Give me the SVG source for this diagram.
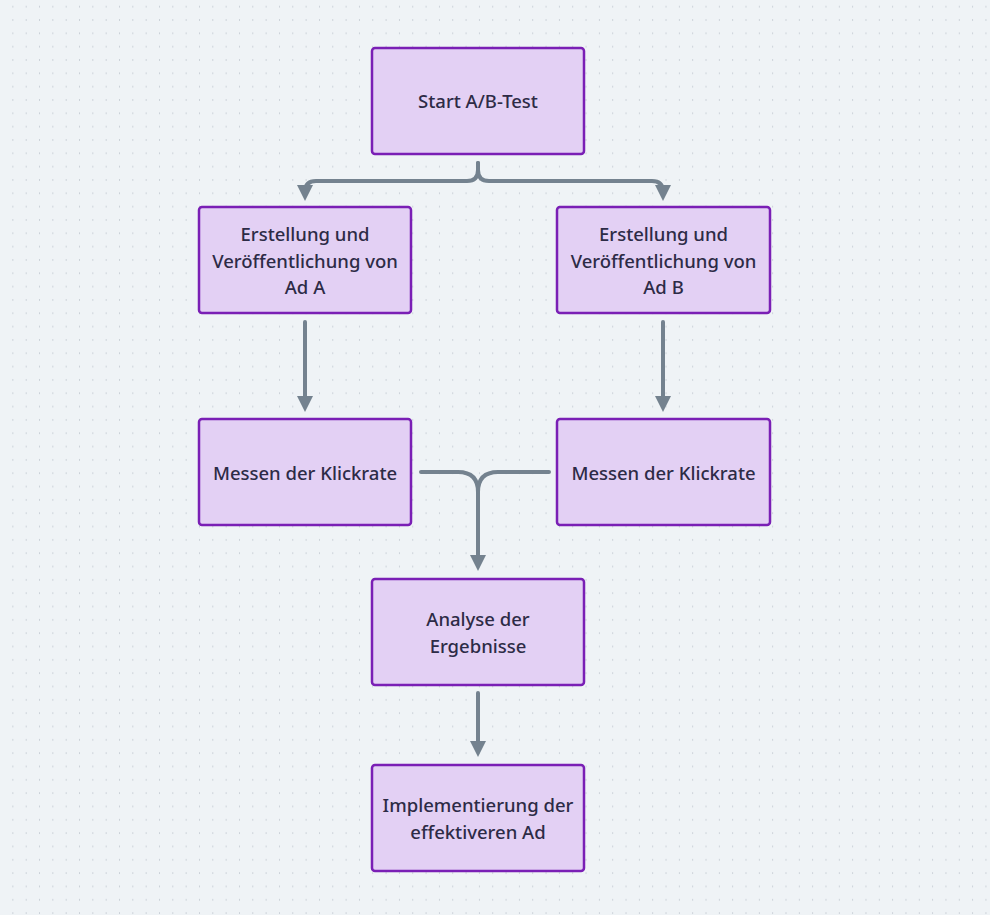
<svg xmlns="http://www.w3.org/2000/svg" width="990" height="915" viewBox="0 0 990 915">
<defs>
<pattern id="dots" width="13.33" height="13.33" patternUnits="userSpaceOnUse" x="0" y="0">
<circle cx="13.33" cy="6.67" r="1" fill="#c2c9d1"/>
</pattern>
<marker id="arr" viewBox="0 0 10 10" refX="5" refY="5" markerWidth="4" markerHeight="4" orient="auto" markerUnits="strokeWidth">
<path d="M0,0 L10,5 L0,10 Z" fill="#74828f"/>
</marker>
</defs>
<style>
.node rect{fill:#e3d0f4;stroke:#7a1fb5;stroke-width:2.5}
.node text{font-family:"Noto Sans","Open Sans",sans-serif;font-size:18.5px;font-weight:500;fill:#2d2b46;text-anchor:middle}
.edge{fill:none;stroke:#74828f;stroke-width:4;stroke-linecap:round;stroke-linejoin:round}
</style>
<rect width="990" height="915" fill="#eff3f6"/>
<rect width="990" height="915" fill="url(#dots)"/>
<g id="connectors">
<path class="edge" marker-end="url(#arr)" d="M478,163 L478,170 Q478,181 467,181 L316,181 Q305,181 305,192 L305,193"/>
<path class="edge" marker-end="url(#arr)" d="M478,163 L478,170 Q478,181 489,181 L652,181 Q663,181 663,192 L663,193"/>
<path class="edge" marker-end="url(#arr)" d="M305,322 L305,404"/>
<path class="edge" marker-end="url(#arr)" d="M663,322 L663,404"/>
<path class="edge" marker-end="url(#arr)" d="M421,472 L458,472 Q478,472 478,492 L478,563"/>
<path class="edge" d="M549,472 L498,472 Q478,472 478,492"/>
<path class="edge" marker-end="url(#arr)" d="M478,693 L478,749"/>
</g>
<g id="start" class="node"><rect x="372" y="48" width="212" height="106" rx="3"/><text x="478" y="108">Start A/B-Test</text></g>
<g id="adA" class="node"><rect x="199" y="207" width="212" height="106" rx="3"/><text x="305" y="241">Erstellung und</text><text x="305" y="268">Veröffentlichung von</text><text x="305" y="294">Ad A</text></g>
<g id="adB" class="node"><rect x="557" y="207" width="213" height="106" rx="3"/><text x="663.5" y="241">Erstellung und</text><text x="663.5" y="268">Veröffentlichung von</text><text x="663.5" y="294">Ad B</text></g>
<g id="messenA" class="node"><rect x="199" y="419" width="212" height="106" rx="3"/><text x="305" y="480">Messen der Klickrate</text></g>
<g id="messenB" class="node"><rect x="557" y="419" width="213" height="106" rx="3"/><text x="663.5" y="480">Messen der Klickrate</text></g>
<g id="analyse" class="node"><rect x="372" y="579" width="212" height="106" rx="3"/><text x="478" y="626">Analyse der</text><text x="478" y="653">Ergebnisse</text></g>
<g id="impl" class="node"><rect x="372" y="765" width="212" height="106" rx="3"/><text x="478" y="812">Implementierung der</text><text x="478" y="839">effektiveren Ad</text></g>
</svg>
